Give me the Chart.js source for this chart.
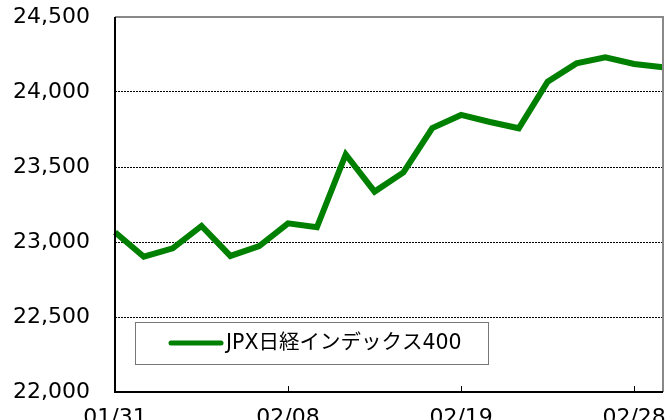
<!DOCTYPE html>
<html>
<head>
<meta charset="utf-8">
<script src="https://cdn.jsdelivr.net/npm/chart.js@4/dist/chart.umd.min.js"></script>
<style>
  html, body { margin: 0; padding: 0; background: #fff; }
  #wrap { width: 667px; height: 420px; position: relative; }
</style>
</head>
<body>
<div id="wrap"><canvas id="chart-jpx"></canvas></div>
<script>
const dates = [
  "01/31", "02/01", "02/02", "02/05", "02/06", "02/07", "02/08", "02/09", "02/13", "02/14",
  "02/15", "02/16", "02/19", "02/20", "02/21", "02/22", "02/26", "02/27", "02/28", "02/29",
];
const jpx400 = [
  23065, 22902, 22958, 23107, 22907, 22973, 23124, 23098, 23584, 23336,
  23464, 23760, 23847, 23800, 23758, 24069, 24191, 24231, 24187, 24165,
];
const yTicks = [22000, 22500, 23000, 23500, 24000, 24500];
const labelEvery = 6;

document.addEventListener("DOMContentLoaded", main);

function main() {
  const ctx = document.getElementById("chart-jpx").getContext("2d");

  // frame, inner x ticks and the boxed legend inside the plot
  const framePlugin = {
    id: "frame",
    afterDraw(chart) {
      const c = chart.ctx;
      const a = chart.chartArea;
      const xs = chart.scales.x;
      c.save();
      c.lineWidth = 2;
      c.strokeStyle = "#888888";
      c.beginPath();
      c.moveTo(a.left, a.top);
      c.lineTo(a.right, a.top);
      c.lineTo(a.right, a.bottom);
      c.stroke();
      c.strokeStyle = "#000000";
      c.beginPath();
      c.moveTo(a.left, a.top);
      c.lineTo(a.left, a.bottom);
      c.lineTo(a.right, a.bottom);
      c.stroke();

      c.lineWidth = 1;
      for (let i = labelEvery; i < dates.length; i += labelEvery) {
        const px = Math.round(xs.getPixelForValue(i)) + 0.5;
        c.beginPath();
        c.moveTo(px, a.bottom);
        c.lineTo(px, a.bottom - 6);
        c.stroke();
      }

      const ds = chart.data.datasets[0];
      const bx = 135, by = 322, bw = 353, bh = 42;
      c.fillStyle = "#ffffff";
      c.fillRect(bx, by, bw, bh);
      c.strokeStyle = "#777777";
      c.strokeRect(bx + 0.5, by + 0.5, bw, bh);
      c.strokeStyle = ds.borderColor;
      c.lineWidth = 5;
      c.lineCap = "round";
      c.beginPath();
      c.moveTo(171, by + 21);
      c.lineTo(221, by + 21);
      c.stroke();
      c.fillStyle = "#000000";
      c.font = "20.5px 'DejaVu Sans', 'Noto Sans CJK JP'";
      c.textBaseline = "middle";
      c.fillText(ds.label, 226, by + 22);
      c.restore();
    },
  };

  new Chart(ctx, {
    type: "line",
    data: {
      labels: dates,
      datasets: [
        {
          label: "JPX日経インデックス400",
          data: jpx400,
          borderColor: "#008000",
          borderWidth: 6,
          pointRadius: 0,
          tension: 0,
          fill: false,
        },
      ],
    },
    options: {
      responsive: true,
      maintainAspectRatio: false,
      animation: false,
      layout: { padding: { top: 17, right: 4, left: 0, bottom: 0 } },
      plugins: {
        legend: { display: false },
        tooltip: { enabled: false },
      },
      scales: {
        x: {
          offset: false,
          border: { display: false },
          grid: { display: false },
          afterFit: (s) => {
            s.height = 28;
            s.paddingLeft = 0;
            s.paddingRight = 0;
          },
          ticks: {
            autoSkip: false,
            maxRotation: 0,
            padding: 5,
            color: "#000",
            font: { family: "'DejaVu Sans'", size: 22 },
            callback: (v, i) => (i % labelEvery === 0 ? dates[i] : null),
          },
        },
        y: {
          min: yTicks[0],
          max: yTicks[yTicks.length - 1],
          border: { display: false, dash: [2, 1] },
          afterFit: (s) => {
            s.width = 115;
            s.paddingTop = 0;
            s.paddingBottom = 0;
          },
          afterBuildTicks: (s) => { s.ticks = yTicks.map((v) => ({ value: v })); },
          grid: {
            drawTicks: false,
            lineWidth: 1,
            color: (c) => (c.tick.value === yTicks[0] || c.tick.value === yTicks[yTicks.length - 1] ? "rgba(0,0,0,0)" : "#000"),
          },
          ticks: {
            padding: 25,
            color: "#000",
            font: { family: "'DejaVu Sans'", size: 22 },
            callback: (v) => v.toLocaleString("en-US"),
          },
        },
      },
    },
    plugins: [framePlugin],
  });
}
</script>
</body>
</html>
